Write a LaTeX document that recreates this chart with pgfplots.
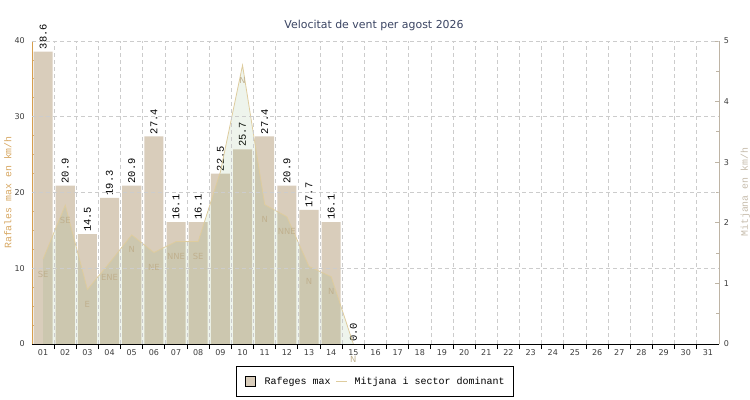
\documentclass[border=0pt]{standalone}
\usepackage{pgfplots}
\usepackage{pgfplotstable}
\pgfplotsset{compat=1.18}
\usepackage{fontspec}
\setmainfont{DejaVu Sans}
\newfontfamily\mono{Liberation Mono}
\definecolor{barcol}{RGB}{217,205,187}
\definecolor{fillcol}{RGB}{100,155,82}
\definecolor{linecol}{RGB}{222,204,158}
\definecolor{leftax}{RGB}{214,158,78}
\definecolor{leftlab}{RGB}{214,166,96}
\definecolor{rightax}{RGB}{190,180,165}
\definecolor{rightlab}{RGB}{198,188,172}
\definecolor{gridcol}{RGB}{204,204,204}
\definecolor{titlecol}{RGB}{58,68,98}
\definecolor{dircol}{RGB}{192,176,142}
\definecolor{tickcol}{RGB}{60,60,60}

\pgfplotstableread{
x y
1 38.6
2 20.9
3 14.5
4 19.3
5 20.9
6 27.4
7 16.1
8 16.1
9 22.5
10 25.7
11 27.4
12 20.9
13 17.7
14 16.1
15 0.0
}\gusts

\pgfplotstableread{
x y dir
1 1.40 SE
2 2.29 SE
3 0.90 E
4 1.34 ENE
5 1.80 N
6 1.51 NE
7 1.69 NNE
8 1.69 SE
9 2.84 {}
10 4.60 N
11 2.30 N
12 2.10 NNE
13 1.28 N
14 1.11 N
15 0.00 N
}\mean

\begin{document}
\begin{tikzpicture}
\path[use as bounding box] (0,0) rectangle (562.5pt,300pt);
\pgfplotsset{
  common/.style={
    at={(24pt,42pt)}, anchor=south west,
    scale only axis, width=515.25pt, height=227.25pt,
    xmin=0.5, xmax=31.5, clip=false,
    /pgf/number format/assume math mode=true,
  },
  tlab/.style={font=\fontsize{6}{7}\selectfont, text=tickcol, inner sep=0pt},
}
% ---- Axis A: gusts (left)
\begin{axis}[common,
  ymin=0, ymax=40,
  axis x line=none,
  axis y line*=left,
  y axis line style={draw=leftax, line width=0.75pt},
  ytick={0,10,20,30,40},
  minor y tick num=3,
  tick align=inside,
  major tick length=3pt, minor tick length=2.25pt,
  tick style={draw=leftax, line width=0.6pt},
  yticklabel style={tlab, xshift=-5.25pt},
]
\addplot[ybar, bar width=0.86, bar shift=0pt, fill=barcol, draw=none,
  nodes near coords,
  nodes near coords style={/pgf/number format/fixed, /pgf/number format/fixed zerofill,
    /pgf/number format/precision=1, /pgf/number format/assume math mode=true,
    rotate=90, anchor=west, inner sep=1.6pt, text=black,
    font=\mono\fontsize{7.8}{8}\selectfont}]
  table[x=x,y=y] {\gusts};
\end{axis}
% ---- Axis B: mean (right)
\begin{axis}[common,
  ymin=0, ymax=5,
  axis x line=none,
  axis y line*=right,
  y axis line style={draw=rightax, line width=0.75pt},
  ytick={0,1,2,3,4,5},
  minor y tick num=1,
  tick align=inside,
  major tick length=3pt, minor tick length=2.25pt,
  tick style={draw=rightax, line width=0.6pt},
  yticklabel style={tlab, xshift=3.5pt},
  legend style={at={(0.4993,-0.1238)}, anchor=center, draw=black, line width=0.75pt,
    font=\mono\fontsize{7.5}{9}\selectfont, legend columns=2,
    inner xsep=6.5pt, inner ysep=6.8pt,
    nodes={inner sep=0pt, text depth=0.15em},
    /tikz/column 1/.style={column sep=6.2pt},
    /tikz/column 2/.style={column sep=3.75pt},
    /tikz/column 3/.style={column sep=5.25pt}},
]
\addlegendimage{legend image code/.code={\draw[fill=barcol, draw=black, line width=0.75pt] (0pt,-3.6pt) rectangle (7.5pt,3.9pt);}}
\addlegendentry{Rafeges max}
\addlegendimage{legend image code/.code={\draw[linecol, line width=0.6pt] (0pt,0.15pt) -- (8.25pt,0.15pt);}}
\addlegendentry{Mitjana i sector dominant}
\addplot[draw=none, fill=fillcol, fill opacity=0.11, forget plot] table[x=x,y=y] {\mean} \closedcycle;
\addplot[linecol, line width=0.6pt, forget plot] table[x=x,y=y] {\mean};
\addplot[draw=none, forget plot, nodes near coords, point meta=explicit symbolic,
  nodes near coords style={anchor=center, yshift=-11.25pt, inner sep=0pt,
    font=\fontsize{6.3}{7}\selectfont, text=dircol}]
  table[x=x,y=y,meta=dir] {\mean};
\end{axis}
% ---- Axis C: x axis and grid (on top)
\begin{axis}[common,
  ymin=0, ymax=40,
  axis x line*=bottom, axis y line*=left,
  y axis line style={draw=none},
  x axis line style={draw=black, line width=0.75pt},
  ytick={10,20,30,40}, yticklabels={}, ymajorgrids,
  xtick={1,...,31},
  xticklabels={01,02,03,04,05,06,07,08,09,10,11,12,13,14,15,16,17,18,19,20,21,22,23,24,25,26,27,28,29,30,31},
  minor xtick={1.5,2.5,...,30.5}, xminorgrids,
  major tick length=0pt, minor tick length=3.75pt, tick align=outside,
  tick style={draw=black, line width=0.75pt},
  grid style={gridcol, dash pattern=on 3pt off 2.25pt, line width=0.6pt},
  minor grid style={gridcol, dash pattern=on 3pt off 2.25pt, line width=0.6pt},
  xticklabel style={tlab, yshift=-3.75pt},
]
\end{axis}
\node[font=\fontsize{8.2}{10}\selectfont, text=titlecol] at (280.5pt,281.25pt) {Velocitat de vent per agost 2026};
\node[rotate=90, font=\mono\fontsize{7.4}{9}\selectfont, text=leftlab] at (5.8pt,155.6pt) {Rafales max en km/h};
\node[rotate=90, font=\mono\fontsize{7.4}{9}\selectfont, text=rightlab] at (559pt,155.8pt) {Mitjana en km/h};
\end{tikzpicture}
\end{document}
